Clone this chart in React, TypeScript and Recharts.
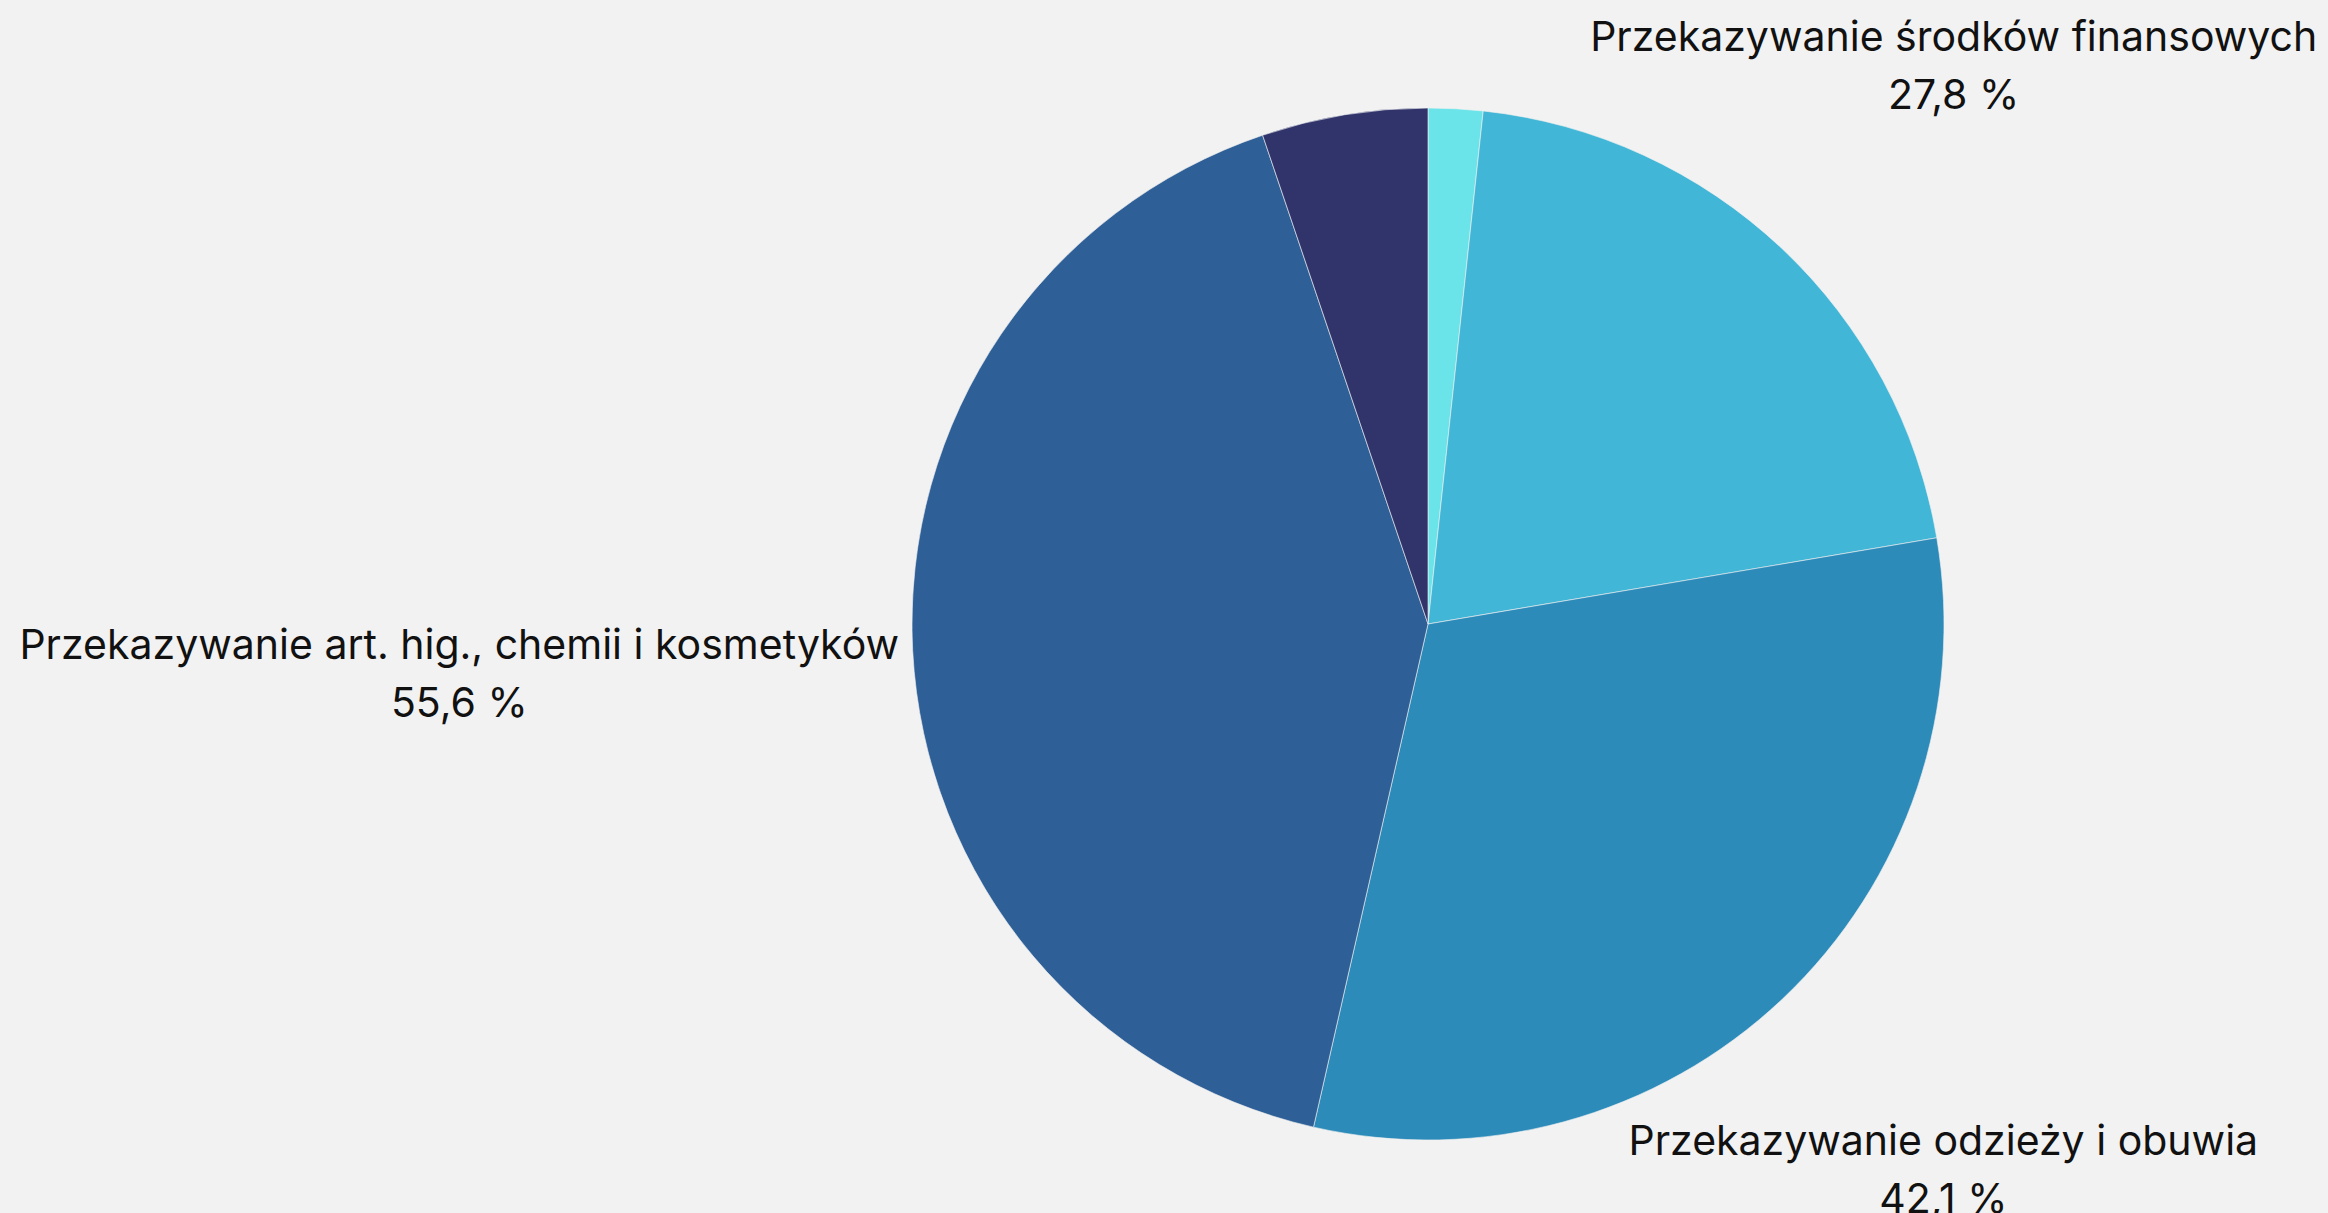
import { PieChart, Pie, Cell } from "recharts";

// Pie of forms of aid; outer labels show the share next to the slice.
// The two small slices carry no label in the source picture.

const CATEGORIES = [
  "Inne formy",
  "Przekazywanie środków finansowych",
  "Przekazywanie odzieży i obuwia",
  "Przekazywanie art. hig., chemii i kosmetyków",
  "Pozostałe",
];
const VALUES = [2.3, 27.8, 42.1, 55.6, 7.0];
const COLORS = ["#6ae4e8", "#42b6d6", "#2d8bba", "#2e5f96", "#30346b"];
const SHOW_LABEL = [false, true, true, true, false];

const W = 2328;
const H = 1213;
const FONT = "Inter, 'Liberation Sans', Arial, sans-serif";
const FS = 41;
const LINE_GAP = 58;
const PAD = 12;

const DATA = CATEGORIES.map((name, i) => ({ name, value: VALUES[i] }));

const fmt = (v: number) => v.toFixed(1).replace(".", ",") + " %";

let ctx: CanvasRenderingContext2D | null = null;
function textWidth(s: string) {
  if (!ctx) ctx = document.createElement("canvas").getContext("2d");
  if (!ctx) return s.length * FS * 0.55;
  ctx.font = `${FS}px ${FONT}`;
  return ctx.measureText(s).width;
}

function renderLabel(props: any) {
  const { cx, cy, midAngle, outerRadius, index, value, name } = props;
  if (!SHOW_LABEL[index]) return null;
  const rad = (midAngle * Math.PI) / 180;
  const dx = Math.cos(rad);
  const dy = -Math.sin(rad);
  const bw = Math.max(textWidth(name), textWidth(fmt(value)));
  const bh = LINE_GAP + FS * 1.3;
  // push the text box out along the slice's mid ray until it clears the pie
  let d = outerRadius;
  let bx = cx;
  let by = cy;
  for (; d < outerRadius + 1200; d += 1) {
    bx = cx + d * dx;
    by = cy + d * dy;
    const nx = Math.min(Math.max(cx, bx - bw / 2), bx + bw / 2);
    const ny = Math.min(Math.max(cy, by - bh / 2), by + bh / 2);
    if (Math.hypot(nx - cx, ny - cy) >= outerRadius + PAD) break;
  }
  const base1 = by - LINE_GAP / 2 + FS * 0.36;
  return (
    <text key={`lbl-${index}`} textAnchor="middle" fontFamily={FONT} fontSize={FS} fill="#111">
      <tspan x={bx} y={base1}>{name}</tspan>
      <tspan x={bx} y={base1 + LINE_GAP}>{fmt(value)}</tspan>
    </text>
  );
}

export default function App() {
  return (
    <div style={{ position: "fixed", left: 0, top: 0, width: W, height: H, background: "#f2f2f2", overflow: "hidden" }}>
      <PieChart width={W} height={H} margin={{ top: 0, right: 0, bottom: 0, left: 0 }}>
        <Pie
          data={DATA}
          dataKey="value"
          nameKey="name"
          cx={1428}
          cy={624}
          outerRadius={516}
          startAngle={90}
          endAngle={-270}
          stroke="#f2f2f2"
          strokeWidth={0.6}
          label={renderLabel}
          labelLine={false}
          isAnimationActive={false}
        >
          {DATA.map((d, i) => (
            <Cell key={d.name} fill={COLORS[i]} />
          ))}
        </Pie>
      </PieChart>
    </div>
  );
}
